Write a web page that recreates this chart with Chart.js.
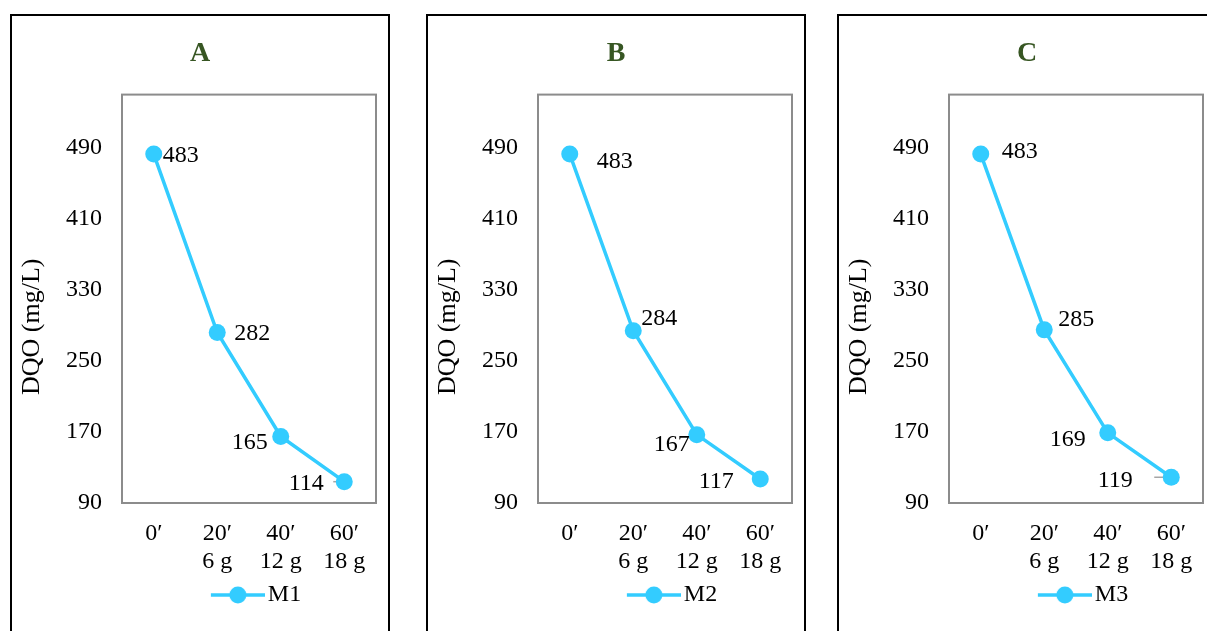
<!DOCTYPE html>
<html><head><meta charset="utf-8">
<script src="https://cdn.jsdelivr.net/npm/chart.js@4.4.0/dist/chart.umd.min.js"></script>
<style>
html,body{margin:0;padding:0;background:#fff;width:1207px;height:631px;overflow:hidden;}
.panel{position:absolute;top:14px;width:376px;height:650px;border:2px solid #000;background:#fff;}
.panel canvas{position:absolute;left:0;top:0;}
</style></head><body>
<div class="panel" style="left:10px"><canvas id="cA" width="376" height="615"></canvas></div>
<div class="panel" style="left:426px"><canvas id="cB" width="376" height="615"></canvas></div>
<div class="panel" style="left:837px"><canvas id="cC" width="376" height="615"></canvas></div>
<script>
// ---- data ----
const categories = [["0′"], ["20′", "6 g"], ["40′", "12 g"], ["60′", "18 g"]];
const panelTitles = ["A", "B", "C"];
const seriesNames = ["M1", "M2", "M3"];
const seriesM1 = [483, 282, 165, 114];
const seriesM2 = [483, 284, 167, 117];
const seriesM3 = [483, 285, 169, 119];
const yTicks = [90, 170, 250, 330, 410, 490];
const yMin = 90, yMax = 550;
const yTitle = "DQO (mg/L)";

// ---- styles ----
const LINE = '#33CCFF';
const FONT = "'Liberation Serif', 'Times New Roman', serif";
const labelOffsets = [
  [[27, 2], [35, 1], [-31, 6], [-38, 2]],
  [[45, 8], [26, -12], [-25, 10], [-44, 3]],
  [[39, -2], [32, -10], [-40, 7], [-56, 3]]
];
const leaders = [11, 0, 17];

Chart.defaults.font.family = FONT;
Chart.defaults.color = '#000';

// legend marker: line with circle
const legImg = document.createElement('canvas');
legImg.width = 77; legImg.height = 20;
(function(){
  const c = legImg.getContext('2d');
  c.strokeStyle = LINE; c.lineWidth = 3.5;
  c.beginPath(); c.moveTo(23, 10); c.lineTo(77, 10); c.stroke();
  c.fillStyle = LINE; c.beginPath(); c.arc(50, 10, 8.5, 0, Math.PI * 2); c.fill();
})();

const framePlugin = {
  id: 'frame',
  beforeDatasetsDraw(chart, args, opts) {
    const {ctx, chartArea: a} = chart;
    ctx.save();
    ctx.strokeStyle = '#8c8c8c'; ctx.lineWidth = 2;
    ctx.strokeRect(a.left, a.top, a.right - a.left, a.bottom - a.top);
    if (opts.leader) {
      const pt = chart.getDatasetMeta(0).data[3];
      ctx.strokeStyle = '#a6a6a6'; ctx.lineWidth = 1.5;
      ctx.beginPath(); ctx.moveTo(pt.x - opts.leader, pt.y); ctx.lineTo(pt.x - 2, pt.y); ctx.stroke();
    }
    // y axis title
    ctx.translate(20, (a.top + a.bottom) / 2 + 28);
    ctx.rotate(-Math.PI / 2);
    ctx.font = "26px " + FONT;
    ctx.fillStyle = '#000'; ctx.textAlign = 'center'; ctx.textBaseline = 'middle';
    ctx.fillText(opts.yTitle, 0, 0);
    ctx.restore();
  },
  afterDatasetsDraw(chart, args, opts) {
    const {ctx} = chart;
    const meta = chart.getDatasetMeta(0);
    const data = chart.data.datasets[0].data;
    ctx.save();
    ctx.font = "24px " + FONT;
    ctx.fillStyle = '#000'; ctx.textAlign = 'center'; ctx.textBaseline = 'middle';
    meta.data.forEach((pt, i) => {
      const o = opts.offsets[i];
      ctx.fillText(String(data[i]), pt.x + o[0], pt.y + o[1]);
    });
    ctx.restore();
  }
};

function makeChart(id, idx, values) {
  new Chart(document.getElementById(id), {
    type: 'line',
    data: {
      labels: categories,
      datasets: [{
        label: seriesNames[idx],
        data: values,
        borderColor: LINE, backgroundColor: LINE,
        borderWidth: 3.5, pointRadius: 8.5, pointHoverRadius: 8.5,
        pointBackgroundColor: LINE, pointBorderColor: LINE, pointBorderWidth: 0,
        tension: 0, fill: false
      }]
    },
    options: {
      responsive: false, animation: false, devicePixelRatio: 1,
      events: [],
      layout: {padding: {top: 0, left: 12, right: 12, bottom: 14}},
      plugins: {
        tooltip: {enabled: false},
        title: {
          display: true, text: panelTitles[idx], color: '#375623',
          font: {size: 28, weight: 'bold', family: FONT, lineHeight: 1.2},
          padding: {top: 21, bottom: 24}
        },
        legend: {
          display: true, position: 'bottom', fullSize: false,
          labels: {
            usePointStyle: true, pointStyle: legImg, pointStyleWidth: 59,
            boxHeight: 20, padding: 10,
            font: {size: 24, family: FONT}, color: '#000'
          }
        },
        frame: {offsets: labelOffsets[idx], leader: leaders[idx], yTitle: yTitle}
      },
      scales: {
        x: {
          offset: true,
          grid: {display: false, drawTicks: false},
          border: {display: false},
          ticks: {font: {size: 24, family: FONT, lineHeight: 1.17}, color: '#000', padding: 17, maxRotation: 0, autoSkip: false},
          afterFit: s => { s.height = 70; }
        },
        y: {
          min: yMin, max: yMax,
          grid: {display: false, drawTicks: false},
          border: {display: false},
          ticks: {font: {size: 24, family: FONT}, color: '#000', padding: 20},
          afterBuildTicks: s => { s.ticks = yTicks.map(v => ({value: v})); },
          afterFit: s => { s.width = 98; }
        }
      }
    },
    plugins: [framePlugin]
  });
}
makeChart('cA', 0, seriesM1);
makeChart('cB', 1, seriesM2);
makeChart('cC', 2, seriesM3);
</script>
</body></html>
